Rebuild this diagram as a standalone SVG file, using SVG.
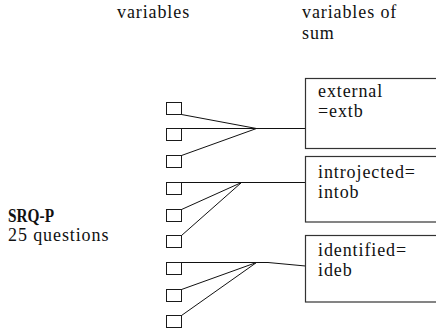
<svg xmlns="http://www.w3.org/2000/svg" width="436" height="329" viewBox="0 0 436 329">
  <style>
    .t { font-family: "Liberation Serif", "Times New Roman", "DejaVu Serif", serif; font-size: 18px; letter-spacing: 0.9px; fill: #111; }
    .b { font-weight: bold; letter-spacing: 0; }
    .item { fill: #fff; stroke: #1a1a1a; stroke-width: 1; }
    .sum { fill: #fff; stroke: #333; stroke-width: 1.2; }
    .link { fill: none; stroke: #111; stroke-width: 1; }
  </style>
  <rect width="436" height="329" fill="#fff"/>

  <!-- column headings -->
  <g id="heading-items">
    <text class="t" x="117" y="18">variables</text>
  </g>
  <g id="heading-sums">
    <text class="t" x="302" y="18">variables of</text>
    <text class="t" x="302" y="39">sum</text>
  </g>

  <!-- questionnaire label -->
  <g id="questionnaire">
    <text class="t b" x="8" y="222" textLength="46" lengthAdjust="spacingAndGlyphs">SRQ-P</text>
    <text class="t" x="8" y="241">25 questions</text>
  </g>

  <!-- connectors: items merge into one line per sum score -->
  <g id="connectors">
    <polyline class="link" points="181.5,114.5 256.5,128.5 181.5,155.5"/>
    <line class="link" x1="166" y1="128.5" x2="305.5" y2="128.5"/>
    <polyline class="link" points="181.5,209.5 241.5,182.5 181.5,235.5"/>
    <line class="link" x1="166" y1="182.5" x2="305.5" y2="182.5"/>
    <polyline class="link" points="181.5,289.5 256.5,262.5 181.5,315.5"/>
    <polyline class="link" points="166,262.5 268,262.5 305.5,266"/>
  </g>

  <!-- question items -->
  <g id="item-1"><rect class="item" x="166.5" y="102.5" width="15" height="12"/></g>
  <g id="item-2"><rect class="item" x="166.5" y="128.5" width="15" height="12"/></g>
  <g id="item-3"><rect class="item" x="166.5" y="155.5" width="15" height="12"/></g>
  <g id="item-4"><rect class="item" x="166.5" y="182.5" width="15" height="12"/></g>
  <g id="item-5"><rect class="item" x="166.5" y="209.5" width="15" height="12"/></g>
  <g id="item-6"><rect class="item" x="166.5" y="235.5" width="15" height="12"/></g>
  <g id="item-7"><rect class="item" x="166.5" y="262.5" width="15" height="12"/></g>
  <g id="item-8"><rect class="item" x="166.5" y="289.5" width="15" height="12"/></g>
  <g id="item-9"><rect class="item" x="166.5" y="315.5" width="15" height="12"/></g>

  <!-- sum scores -->
  <g id="sum-external">
    <rect class="sum" x="305.5" y="78.5" width="140" height="70"/>
    <text class="t" x="318" y="97">external</text>
    <text class="t" x="318" y="117">=extb</text>
  </g>
  <g id="sum-introjected">
    <rect class="sum" x="305.5" y="156.5" width="140" height="65.5"/>
    <text class="t" x="318" y="178">introjected=</text>
    <text class="t" x="318" y="198">intob</text>
  </g>
  <g id="sum-identified">
    <rect class="sum" x="305.5" y="235.5" width="140" height="66.5"/>
    <text class="t" x="318" y="256">identified=</text>
    <text class="t" x="318" y="276">ideb</text>
  </g>
</svg>
